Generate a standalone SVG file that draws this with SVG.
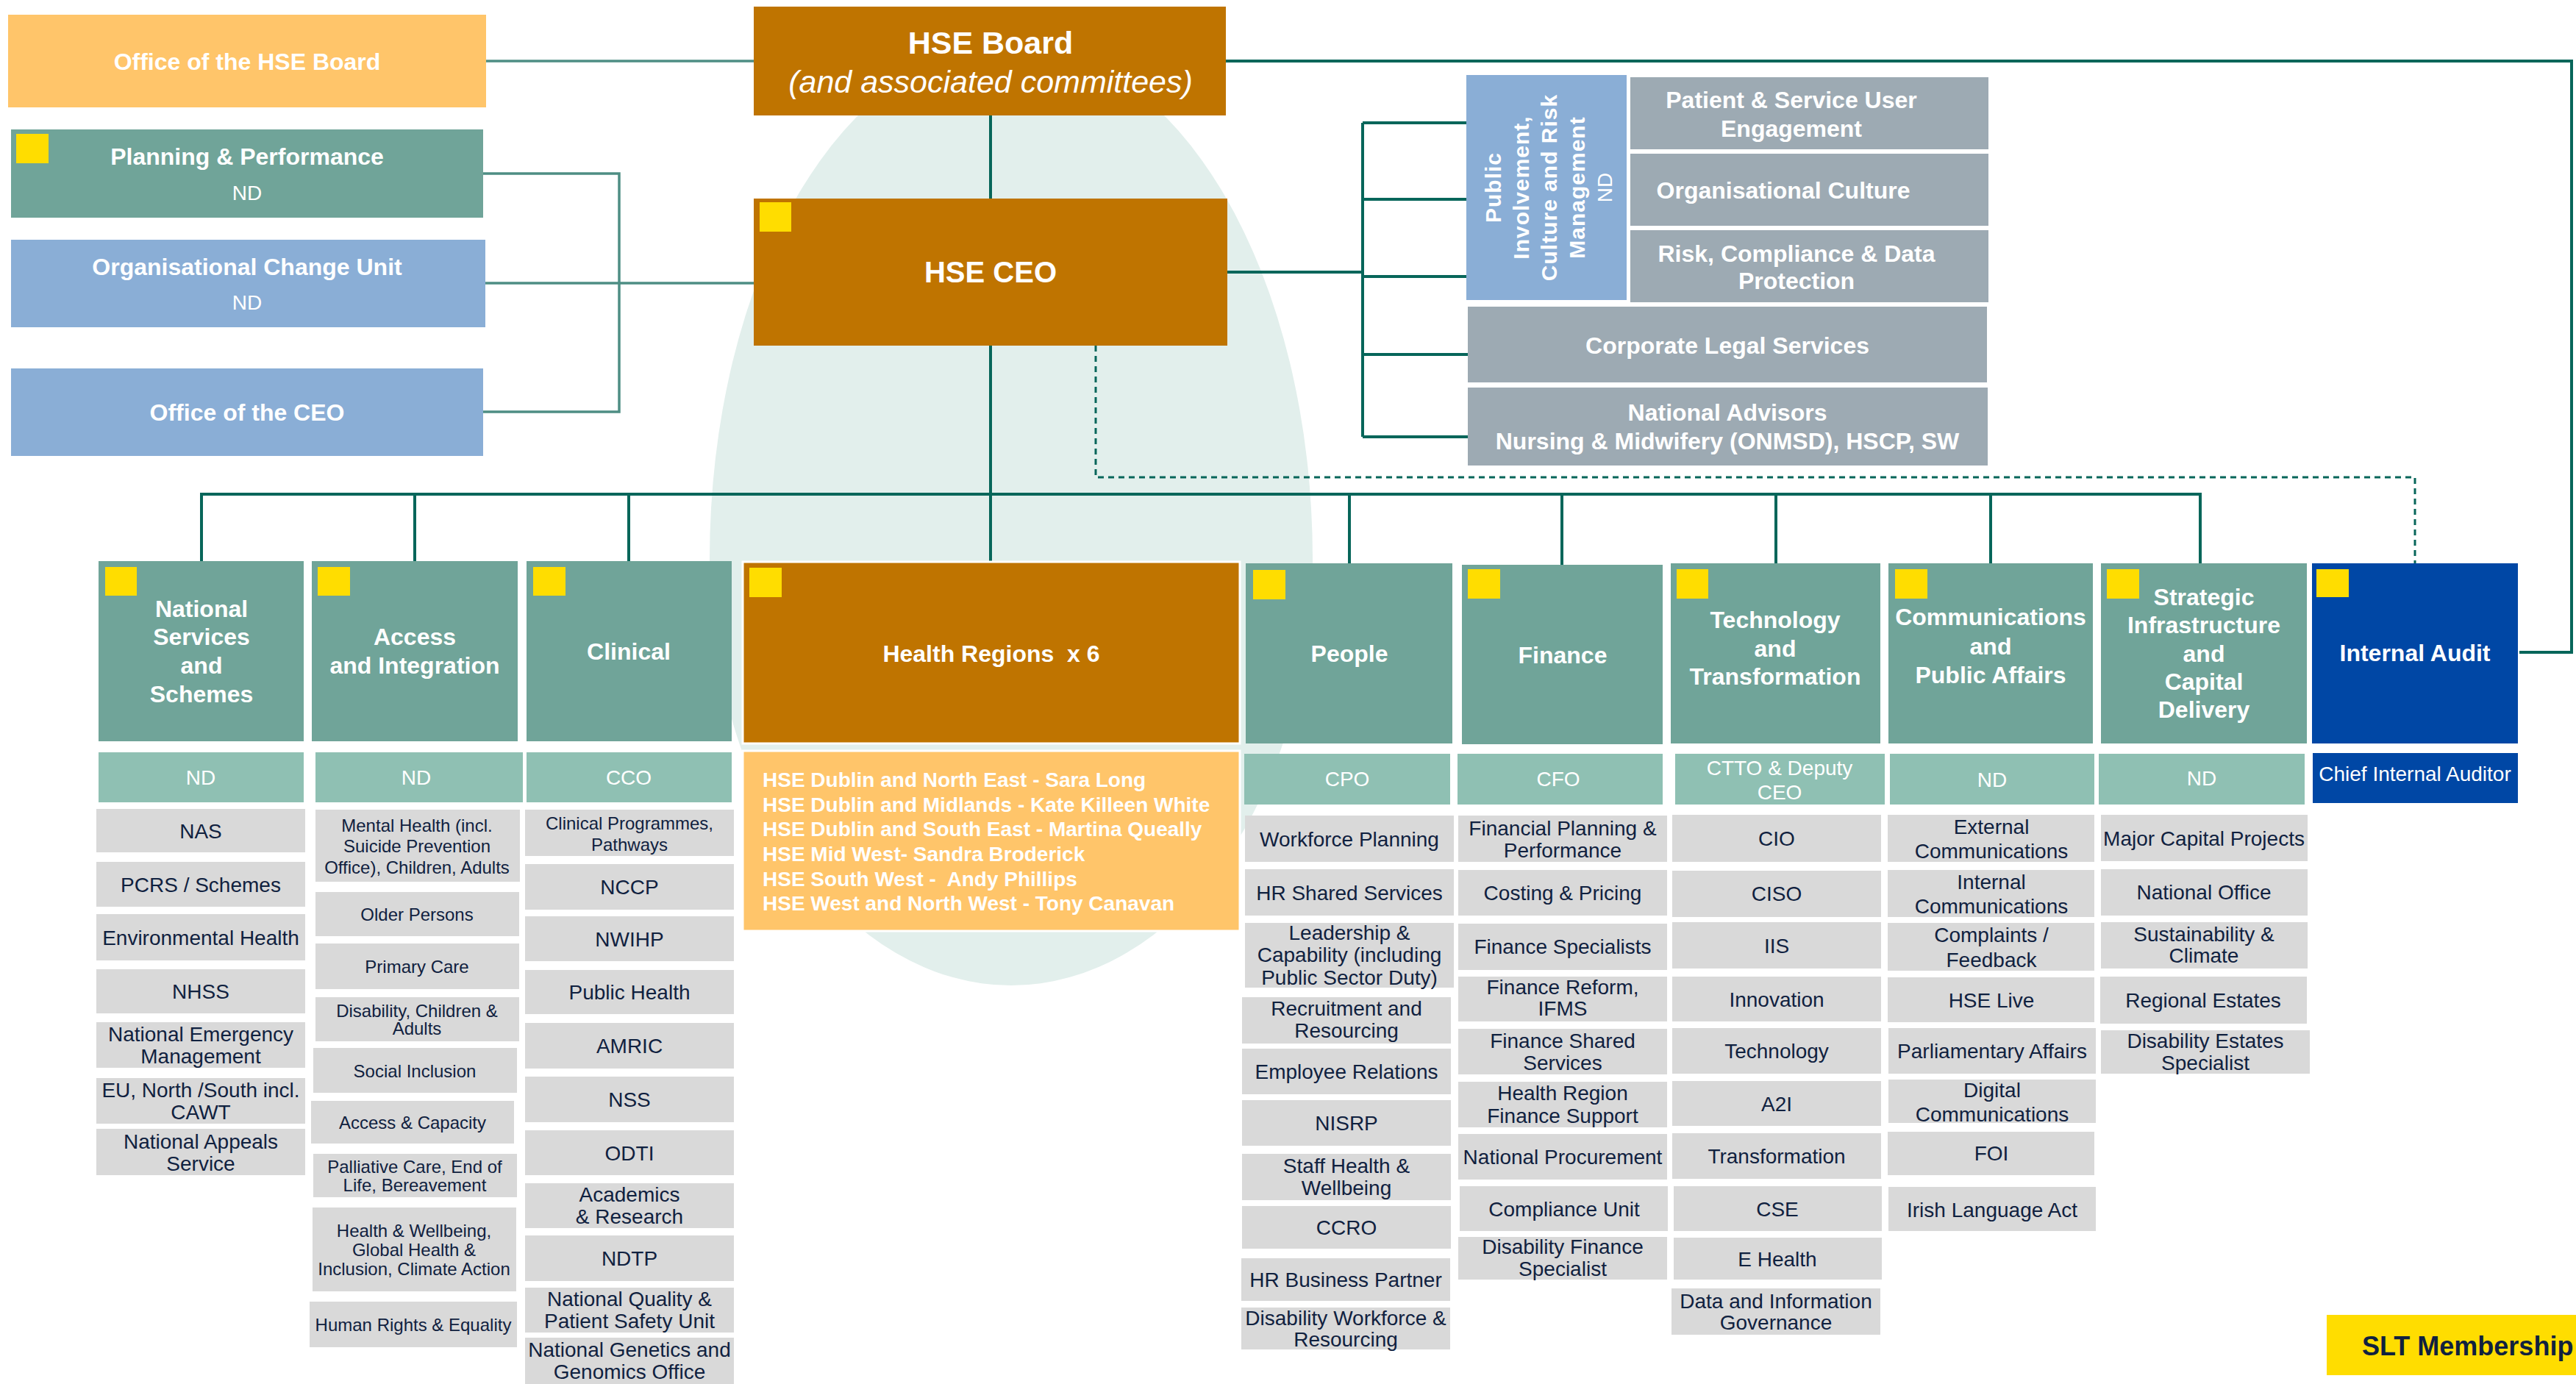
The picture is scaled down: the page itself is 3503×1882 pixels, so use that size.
<svg xmlns="http://www.w3.org/2000/svg" width="3503" height="1882" viewBox="0 0 3503 1882">
<style>
text{font-family:"Liberation Sans",Arial,sans-serif;dominant-baseline:central;text-anchor:middle}
.hdr{fill:#70A499}
.nd{fill:#8FC0B3}
.item{fill:#D9D9D9}
.gray{fill:#9DAAB3}
.blue{fill:#8AAED6}
.dblue{fill:#0047A5}
.org{fill:#BF7400}
.lorg{fill:#FFC56A}
.yel{fill:#FFDD00}
.w{fill:#FFFFFF;font-weight:bold}
.wh{fill:#FFFFFF;font-weight:bold;font-size:32px}
.wn{fill:#FFFFFF;font-size:28px}
.it{fill:#10213F;font-size:28px}
.is{fill:#10213F;font-size:24px}
.ln{fill:none;stroke:#07665A;stroke-width:4}
.lnl{fill:none;stroke:#4E8E84;stroke-width:3.5}
.dash{fill:none;stroke:#07665A;stroke-width:3;stroke-dasharray:8 6}
</style>
<rect width="3503" height="1882" fill="#FFFFFF"/>
<path d="M 965 760 A 410 700 0 0 1 1785 760 A 410 580 0 0 1 965 760 Z" fill="#E2EFEC"/>

<g id="connectors">
<line class="lnl" x1="661" y1="83" x2="1025" y2="83"/>
<polyline class="lnl" points="657,236 842,236 842,560 657,560"/>
<line class="lnl" x1="657" y1="385" x2="1025" y2="385"/>
<line class="ln" x1="1347" y1="157" x2="1347" y2="270"/>
<polyline class="ln" points="1667,83 3497,83 3497,887 3426,887"/>
<line class="ln" x1="1669" y1="370" x2="1853" y2="370"/>
<line class="ln" x1="1853" y1="167" x2="1853" y2="594"/>
<line class="ln" x1="1853" y1="167" x2="1994" y2="167"/>
<line class="ln" x1="1853" y1="271" x2="1994" y2="271"/>
<line class="ln" x1="1853" y1="376" x2="1994" y2="376"/>
<line class="ln" x1="1853" y1="482" x2="1996" y2="482"/>
<line class="ln" x1="1853" y1="594" x2="1996" y2="594"/>
<line class="ln" x1="1347" y1="470" x2="1347" y2="764"/>
<line class="ln" x1="272" y1="672" x2="2994" y2="672" stroke-width="5"/>
<line class="ln" x1="274" y1="672" x2="274" y2="763"/>
<line class="ln" x1="564" y1="672" x2="564" y2="763"/>
<line class="ln" x1="855" y1="672" x2="855" y2="763"/>
<line class="ln" x1="1835" y1="672" x2="1835" y2="766"/>
<line class="ln" x1="2124" y1="672" x2="2124" y2="768"/>
<line class="ln" x1="2415" y1="672" x2="2415" y2="766"/>
<line class="ln" x1="2707" y1="672" x2="2707" y2="766"/>
<line class="ln" x1="2992" y1="672" x2="2992" y2="766"/>
<polyline class="dash" points="1490,470 1490,649 3284,649 3284,766"/>
</g>

<g id="office-hse-board"><rect class="lorg" x="11" y="20" width="650" height="126"/><text class="w" x="336" y="84" font-size="32">Office of the HSE Board</text></g>
<g id="planning-performance"><rect class="hdr" x="15" y="176" width="642" height="120"/><rect class="yel" x="22" y="182" width="44" height="40"/><text class="w" x="336" y="213" font-size="32">Planning &amp; Performance</text><text class="wn" x="336" y="262" font-size="26">ND</text></g>
<g id="org-change-unit"><rect class="blue" x="15" y="326" width="645" height="119"/><text class="w" x="336" y="363" font-size="32">Organisational Change Unit</text><text class="wn" x="336" y="411" font-size="26">ND</text></g>
<g id="office-ceo"><rect class="blue" x="15" y="501" width="642" height="119"/><text class="w" x="336" y="561" font-size="32">Office of the CEO</text></g>

<g id="hse-board"><rect class="org" x="1025" y="9" width="642" height="148"/><text class="w" x="1347" y="58" font-size="43">HSE Board</text><text x="1347" y="111" font-size="43" font-style="italic" fill="#FFFFFF">(and associated committees)</text></g>
<g id="hse-ceo"><rect class="org" x="1025" y="270" width="644" height="200"/><rect class="yel" x="1033" y="275" width="43" height="40"/><text class="w" x="1347" y="370" font-size="40">HSE CEO</text></g>

<g id="public-involvement"><rect class="blue" x="1994" y="102" width="218" height="306"/>
<g transform="translate(2106,255) rotate(-90)"><text class="w" x="0" y="-76" font-size="30" letter-spacing="1">Public</text><text class="w" x="0" y="-38" font-size="30" letter-spacing="1">Involvement,</text><text class="w" x="0" y="0" font-size="30" letter-spacing="1">Culture and Risk</text><text class="w" x="0" y="38" font-size="30" letter-spacing="1">Management</text><text class="wn" x="0" y="76" font-size="28">ND</text></g></g>
<g id="patient-engagement"><rect class="gray" x="2217" y="105" width="487" height="98"/><text class="w" x="2436" y="136" font-size="32">Patient &amp; Service User</text><text class="w" x="2436" y="175" font-size="32">Engagement</text></g>
<g id="org-culture"><rect class="gray" x="2217" y="209" width="487" height="98"/><text class="w" x="2425" y="259" font-size="32">Organisational Culture</text></g>
<g id="risk-compliance"><rect class="gray" x="2217" y="313" width="487" height="98"/><text class="w" x="2443" y="345" font-size="32">Risk, Compliance &amp; Data</text><text class="w" x="2443" y="382" font-size="32">Protection</text></g>
<g id="corporate-legal"><rect class="gray" x="1996" y="417" width="706" height="103"/><text class="w" x="2349" y="470" font-size="32">Corporate Legal Services</text></g>
<g id="national-advisors"><rect class="gray" x="1996" y="527" width="707" height="106"/><text class="w" x="2349" y="561" font-size="32">National Advisors</text><text class="w" x="2349" y="600" font-size="32">Nursing &amp; Midwifery (ONMSD), HSCP, SW</text></g>

<!-- Column 1 -->
<g id="national-services"><rect class="hdr" x="134" y="763" width="279" height="245"/><rect class="yel" x="143" y="771" width="43" height="39"/><text class="wh" x="274" y="828">National</text><text class="wh" x="274" y="866">Services</text><text class="wh" x="274" y="905">and</text><text class="wh" x="274" y="944">Schemes</text></g>
<g id="ns-nd"><rect class="nd" x="134" y="1023" width="279" height="68"/><text class="wn" x="273" y="1057">ND</text></g>
<g id="nas"><rect class="item" x="131" y="1100" width="284" height="59"/><text class="it" x="273" y="1130">NAS</text></g>
<g id="pcrs"><rect class="item" x="131" y="1172" width="284" height="61"/><text class="it" x="273" y="1203">PCRS / Schemes</text></g>
<g id="env-health"><rect class="item" x="131" y="1243" width="284" height="63"/><text class="it" x="273" y="1275">Environmental Health</text></g>
<g id="nhss"><rect class="item" x="131" y="1318" width="284" height="60"/><text class="it" x="273" y="1348">NHSS</text></g>
<g id="nem"><rect class="item" x="131" y="1390" width="284" height="62"/><text class="it" x="273" y="1406">National Emergency</text><text class="it" x="273" y="1436">Management</text></g>
<g id="eu-north-south"><rect class="item" x="131" y="1466" width="284" height="62"/><text class="it" x="273" y="1482">EU, North /South incl.</text><text class="it" x="273" y="1512">CAWT</text></g>
<g id="appeals"><rect class="item" x="131" y="1535" width="284" height="63"/><text class="it" x="273" y="1552">National Appeals</text><text class="it" x="273" y="1582">Service</text></g>

<!-- Column 2 -->
<g id="access-integration"><rect class="hdr" x="424" y="763" width="280" height="245"/><rect class="yel" x="432" y="771" width="44" height="39"/><text class="wh" x="564" y="866">Access</text><text class="wh" x="564" y="905">and Integration</text></g>
<g id="ai-nd"><rect class="nd" x="429" y="1023" width="282" height="68"/><text class="wn" x="566" y="1057">ND</text></g>
<g id="mental-health"><rect class="item" x="429" y="1101" width="278" height="98"/><text class="is" x="567" y="1122">Mental Health (incl.</text><text class="is" x="567" y="1150">Suicide Prevention</text><text class="is" x="567" y="1179">Office), Children, Adults</text></g>
<g id="older-persons"><rect class="item" x="429" y="1213" width="277" height="60"/><text class="is" x="567" y="1243">Older Persons</text></g>
<g id="primary-care"><rect class="item" x="429" y="1283" width="277" height="62"/><text class="is" x="567" y="1314">Primary Care</text></g>
<g id="disability-ca"><rect class="item" x="429" y="1356" width="277" height="60"/><text class="is" x="567" y="1374">Disability, Children &amp;</text><text class="is" x="567" y="1398">Adults</text></g>
<g id="social-inclusion"><rect class="item" x="426" y="1425" width="277" height="61"/><text class="is" x="564" y="1456">Social Inclusion</text></g>
<g id="access-capacity"><rect class="item" x="423" y="1497" width="276" height="58"/><text class="is" x="561" y="1526">Access &amp; Capacity</text></g>
<g id="palliative"><rect class="item" x="426" y="1569" width="277" height="59"/><text class="is" x="564" y="1586">Palliative Care, End of</text><text class="is" x="564" y="1611">Life, Bereavement</text></g>
<g id="health-wellbeing"><rect class="item" x="425" y="1642" width="277" height="114"/><text class="is" x="563" y="1673">Health &amp; Wellbeing,</text><text class="is" x="563" y="1699">Global Health &amp;</text><text class="is" x="563" y="1725">Inclusion, Climate Action</text></g>
<g id="human-rights"><rect class="item" x="421" y="1770" width="282" height="62"/><text class="is" x="562" y="1801">Human Rights &amp; Equality</text></g>

<!-- Column 3 -->
<g id="clinical"><rect class="hdr" x="716" y="763" width="279" height="245"/><rect class="yel" x="725" y="771" width="44" height="39"/><text class="wh" x="855" y="886">Clinical</text></g>
<g id="cco"><rect class="nd" x="716" y="1023" width="279" height="68"/><text class="wn" x="855" y="1057">CCO</text></g>
<g id="clin-prog"><rect class="item" x="714" y="1101" width="284" height="63"/><text class="is" x="856" y="1119">Clinical Programmes,</text><text class="is" x="856" y="1148">Pathways</text></g>
<g id="nccp"><rect class="item" x="714" y="1175" width="284" height="62"/><text class="it" x="856" y="1206">NCCP</text></g>
<g id="nwihp"><rect class="item" x="714" y="1246" width="284" height="61"/><text class="it" x="856" y="1277">NWIHP</text></g>
<g id="public-health"><rect class="item" x="714" y="1319" width="284" height="60"/><text class="it" x="856" y="1349">Public Health</text></g>
<g id="amric"><rect class="item" x="714" y="1391" width="284" height="62"/><text class="it" x="856" y="1422">AMRIC</text></g>
<g id="nss"><rect class="item" x="714" y="1464" width="284" height="62"/><text class="it" x="856" y="1495">NSS</text></g>
<g id="odti"><rect class="item" x="714" y="1537" width="284" height="61"/><text class="it" x="856" y="1568">ODTI</text></g>
<g id="academics"><rect class="item" x="714" y="1609" width="284" height="61"/><text class="it" x="856" y="1624">Academics</text><text class="it" x="856" y="1654">&amp; Research</text></g>
<g id="ndtp"><rect class="item" x="714" y="1680" width="284" height="62"/><text class="it" x="856" y="1711">NDTP</text></g>
<g id="nqps"><rect class="item" x="714" y="1751" width="284" height="61"/><text class="it" x="856" y="1766">National Quality &amp;</text><text class="it" x="856" y="1796">Patient Safety Unit</text></g>
<g id="genetics"><rect class="item" x="714" y="1819" width="284" height="63"/><text class="it" x="856" y="1835">National Genetics and</text><text class="it" x="856" y="1865">Genomics Office</text></g>

<!-- Health Regions -->
<g id="health-regions"><rect class="org" x="1010" y="764" width="676" height="247" stroke="#FFFFFF" stroke-width="3"/><rect class="yel" x="1019" y="772" width="44" height="40"/><text class="w" x="1348" y="889" font-size="32" xml:space="preserve">Health Regions  x 6</text></g>
<g id="regions-list"><rect class="lorg" x="1010" y="1021" width="676" height="245" stroke="#FFFFFF" stroke-width="3"/>
<g font-size="28"><text class="w" x="1037" y="1060" style="text-anchor:start">HSE Dublin and North East - Sara Long</text><text class="w" x="1037" y="1094" style="text-anchor:start">HSE Dublin and Midlands - Kate Killeen White</text><text class="w" x="1037" y="1127" style="text-anchor:start">HSE Dublin and South East - Martina Queally</text><text class="w" x="1037" y="1161" style="text-anchor:start">HSE Mid West- Sandra Broderick</text><text class="w" x="1037" y="1195" style="text-anchor:start" xml:space="preserve">HSE South West -  Andy Phillips</text><text class="w" x="1037" y="1228" style="text-anchor:start">HSE West and North West - Tony Canavan</text></g></g>

<!-- People -->
<g id="people"><rect class="hdr" x="1694" y="766" width="281" height="245"/><rect class="yel" x="1704" y="775" width="44" height="40"/><text class="wh" x="1835" y="889">People</text></g>
<g id="cpo"><rect class="nd" x="1692" y="1025" width="280" height="69"/><text class="wn" x="1832" y="1059">CPO</text></g>
<g id="workforce-planning"><rect class="item" x="1693" y="1109" width="284" height="63"/><text class="it" x="1835" y="1141">Workforce Planning</text></g>
<g id="hr-shared"><rect class="item" x="1693" y="1182" width="284" height="63"/><text class="it" x="1835" y="1214">HR Shared Services</text></g>
<g id="leadership"><rect class="item" x="1693" y="1255" width="284" height="88"/><text class="it" x="1835" y="1268">Leadership &amp;</text><text class="it" x="1835" y="1298">Capability (including</text><text class="it" x="1835" y="1329">Public Sector Duty)</text></g>
<g id="recruitment"><rect class="item" x="1689" y="1356" width="284" height="63"/><text class="it" x="1831" y="1371">Recruitment and</text><text class="it" x="1831" y="1401">Resourcing</text></g>
<g id="employee-relations"><rect class="item" x="1689" y="1426" width="284" height="62"/><text class="it" x="1831" y="1457">Employee Relations</text></g>
<g id="nisrp"><rect class="item" x="1689" y="1496" width="284" height="62"/><text class="it" x="1831" y="1527">NISRP</text></g>
<g id="staff-health"><rect class="item" x="1689" y="1569" width="284" height="63"/><text class="it" x="1831" y="1585">Staff Health &amp;</text><text class="it" x="1831" y="1615">Wellbeing</text></g>
<g id="ccro"><rect class="item" x="1689" y="1640" width="284" height="58"/><text class="it" x="1831" y="1669">CCRO</text></g>
<g id="hr-bp"><rect class="item" x="1688" y="1711" width="284" height="58"/><text class="it" x="1830" y="1740">HR Business Partner</text></g>
<g id="disability-workforce"><rect class="item" x="1688" y="1778" width="284" height="57"/><text class="it" x="1830" y="1792">Disability Workforce &amp;</text><text class="it" x="1830" y="1821">Resourcing</text></g>

<!-- Finance -->
<g id="finance"><rect class="hdr" x="1988" y="768" width="273" height="244"/><rect class="yel" x="1996" y="774" width="44" height="40"/><text class="wh" x="2125" y="891">Finance</text></g>
<g id="cfo"><rect class="nd" x="1982" y="1025" width="279" height="69"/><text class="wn" x="2119" y="1059">CFO</text></g>
<g id="fin-planning"><rect class="item" x="1983" y="1109" width="284" height="63"/><text class="it" x="2125" y="1126">Financial Planning &amp;</text><text class="it" x="2125" y="1156">Performance</text></g>
<g id="costing"><rect class="item" x="1983" y="1183" width="284" height="62"/><text class="it" x="2125" y="1214">Costing &amp; Pricing</text></g>
<g id="fin-specialists"><rect class="item" x="1983" y="1256" width="284" height="63"/><text class="it" x="2125" y="1287">Finance Specialists</text></g>
<g id="fin-reform"><rect class="item" x="1983" y="1328" width="284" height="61"/><text class="it" x="2125" y="1342">Finance Reform,</text><text class="it" x="2125" y="1371">IFMS</text></g>
<g id="fin-shared"><rect class="item" x="1983" y="1399" width="284" height="62"/><text class="it" x="2125" y="1415">Finance Shared</text><text class="it" x="2125" y="1445">Services</text></g>
<g id="hr-fin-support"><rect class="item" x="1983" y="1471" width="284" height="62"/><text class="it" x="2125" y="1486">Health Region</text><text class="it" x="2125" y="1517">Finance Support</text></g>
<g id="procurement"><rect class="item" x="1983" y="1542" width="284" height="62"/><text class="it" x="2125" y="1573">National Procurement</text></g>
<g id="compliance"><rect class="item" x="1985" y="1613" width="283" height="61"/><text class="it" x="2127" y="1644">Compliance Unit</text></g>
<g id="disability-finance"><rect class="item" x="1983" y="1682" width="284" height="58"/><text class="it" x="2125" y="1695">Disability Finance</text><text class="it" x="2125" y="1725">Specialist</text></g>

<!-- Technology -->
<g id="technology"><rect class="hdr" x="2272" y="766" width="285" height="245"/><rect class="yel" x="2280" y="774" width="43" height="40"/><text class="wh" x="2414" y="843">Technology</text><text class="wh" x="2414" y="882">and</text><text class="wh" x="2414" y="920">Transformation</text></g>
<g id="ctto"><rect class="nd" x="2278" y="1025" width="285" height="69"/><text class="wn" x="2420" y="1044" font-size="27">CTTO &amp; Deputy</text><text class="wn" x="2420" y="1077" font-size="27">CEO</text></g>
<g id="cio"><rect class="item" x="2274" y="1108" width="284" height="64"/><text class="it" x="2416" y="1140">CIO</text></g>
<g id="ciso"><rect class="item" x="2274" y="1184" width="284" height="63"/><text class="it" x="2416" y="1215">CISO</text></g>
<g id="iis"><rect class="item" x="2274" y="1254" width="284" height="63"/><text class="it" x="2416" y="1286">IIS</text></g>
<g id="innovation"><rect class="item" x="2274" y="1328" width="284" height="61"/><text class="it" x="2416" y="1359">Innovation</text></g>
<g id="tech-item"><rect class="item" x="2274" y="1398" width="284" height="62"/><text class="it" x="2416" y="1429">Technology</text></g>
<g id="a2i"><rect class="item" x="2274" y="1470" width="284" height="61"/><text class="it" x="2416" y="1501">A2I</text></g>
<g id="transformation"><rect class="item" x="2274" y="1541" width="284" height="62"/><text class="it" x="2416" y="1572">Transformation</text></g>
<g id="cse"><rect class="item" x="2276" y="1613" width="283" height="61"/><text class="it" x="2417" y="1644">CSE</text></g>
<g id="ehealth"><rect class="item" x="2276" y="1683" width="283" height="57"/><text class="it" x="2417" y="1712">E Health</text></g>
<g id="data-gov"><rect class="item" x="2273" y="1752" width="284" height="63"/><text class="it" x="2415" y="1769">Data and Information</text><text class="it" x="2415" y="1798">Governance</text></g>

<!-- Communications -->
<g id="communications"><rect class="hdr" x="2568" y="766" width="278" height="245"/><rect class="yel" x="2577" y="774" width="44" height="40"/><text class="wh" x="2707" y="839">Communications</text><text class="wh" x="2707" y="879">and</text><text class="wh" x="2707" y="918">Public Affairs</text></g>
<g id="comms-nd"><rect class="nd" x="2570" y="1025" width="278" height="69"/><text class="wn" x="2709" y="1060">ND</text></g>
<g id="ext-comms"><rect class="item" x="2567" y="1108" width="281" height="64"/><text class="it" x="2708" y="1124">External</text><text class="it" x="2708" y="1157">Communications</text></g>
<g id="int-comms"><rect class="item" x="2567" y="1183" width="281" height="64"/><text class="it" x="2708" y="1199">Internal</text><text class="it" x="2708" y="1232">Communications</text></g>
<g id="complaints"><rect class="item" x="2567" y="1255" width="281" height="65"/><text class="it" x="2708" y="1271">Complaints /</text><text class="it" x="2708" y="1305">Feedback</text></g>
<g id="hse-live"><rect class="item" x="2567" y="1329" width="281" height="61"/><text class="it" x="2708" y="1360">HSE Live</text></g>
<g id="parliamentary"><rect class="item" x="2568" y="1398" width="282" height="62"/><text class="it" x="2709" y="1429">Parliamentary Affairs</text></g>
<g id="digital-comms"><rect class="item" x="2568" y="1468" width="282" height="59"/><text class="it" x="2709" y="1482">Digital</text><text class="it" x="2709" y="1515">Communications</text></g>
<g id="foi"><rect class="item" x="2567" y="1539" width="281" height="59"/><text class="it" x="2708" y="1568">FOI</text></g>
<g id="irish-language"><rect class="item" x="2568" y="1614" width="282" height="60"/><text class="it" x="2709" y="1645">Irish Language Act</text></g>

<!-- Strategic Infrastructure -->
<g id="strategic-infra"><rect class="hdr" x="2857" y="766" width="280" height="245"/><rect class="yel" x="2865" y="774" width="44" height="40"/><text class="wh" x="2997" y="812">Strategic</text><text class="wh" x="2997" y="850">Infrastructure</text><text class="wh" x="2997" y="889">and</text><text class="wh" x="2997" y="927">Capital</text><text class="wh" x="2997" y="965">Delivery</text></g>
<g id="si-nd"><rect class="nd" x="2854" y="1025" width="280" height="69"/><text class="wn" x="2994" y="1058">ND</text></g>
<g id="major-capital"><rect class="item" x="2857" y="1108" width="281" height="63"/><text class="it" x="2997" y="1140">Major Capital Projects</text></g>
<g id="national-office"><rect class="item" x="2857" y="1182" width="281" height="63"/><text class="it" x="2997" y="1213">National Office</text></g>
<g id="sustainability"><rect class="item" x="2857" y="1254" width="281" height="63"/><text class="it" x="2997" y="1270">Sustainability &amp;</text><text class="it" x="2997" y="1299">Climate</text></g>
<g id="regional-estates"><rect class="item" x="2856" y="1328" width="281" height="64"/><text class="it" x="2996" y="1360">Regional Estates</text></g>
<g id="disability-estates"><rect class="item" x="2857" y="1401" width="284" height="59"/><text class="it" x="2999" y="1415">Disability Estates</text><text class="it" x="2999" y="1445">Specialist</text></g>

<!-- Internal Audit -->
<g id="internal-audit"><rect class="dblue" x="3144" y="766" width="280" height="245"/><rect class="yel" x="3150" y="774" width="44" height="38"/><text class="wh" x="3284" y="888">Internal Audit</text></g>
<g id="chief-auditor"><rect class="dblue" x="3145" y="1024" width="279" height="68"/><text class="wn" x="3284" y="1052" font-size="27">Chief Internal Auditor</text></g>

<g id="slt-legend"><rect class="yel" x="3164" y="1788" width="339" height="82"/><text x="3212" y="1830" font-size="36" font-weight="bold" fill="#10213F" style="text-anchor:start">SLT Membership</text></g>
</svg>
